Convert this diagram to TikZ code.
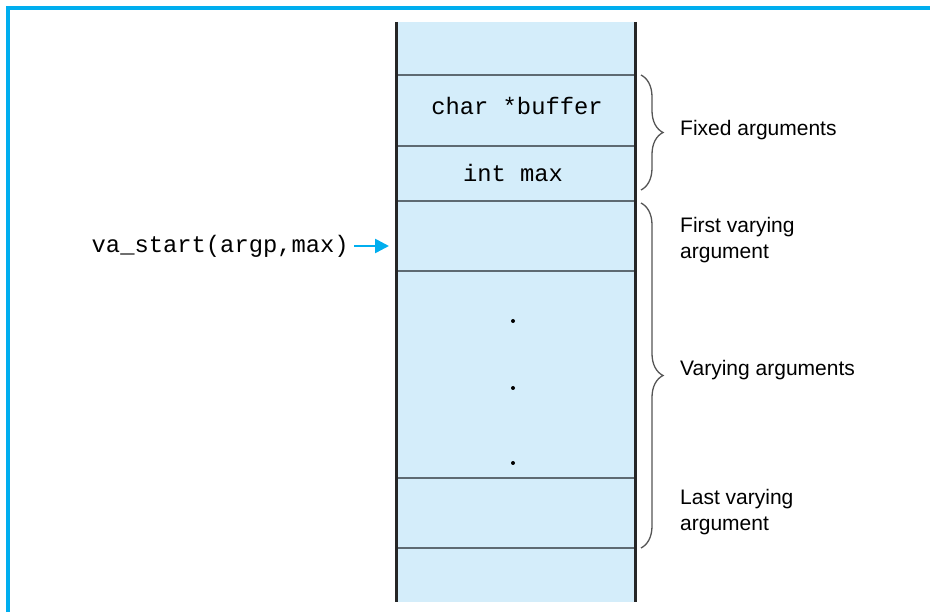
\documentclass[tikz,border=0pt]{standalone}
\usepackage{fontspec}
\setmainfont{Liberation Sans}
\setmonofont{Liberation Mono}
\usetikzlibrary{arrows.meta,decorations.pathreplacing}
\definecolor{stackfill}{HTML}{D4EDFA}
\definecolor{framecyan}{HTML}{00AEEF}
\definecolor{rowgray}{HTML}{5E6A72}
\definecolor{bracegray}{HTML}{555555}

\begin{document}
\begin{tikzpicture}[x=1pt,y=-1pt,
  cell/.style={font=\fontsize{23.8}{26}\selectfont\ttfamily,inner sep=0pt},
  note/.style={font=\fontsize{21}{26}\selectfont,align=left,anchor=west,inner sep=0pt},
  argbrace/.style={decorate,decoration={brace,amplitude=22pt},bracegray,line width=1.3pt}]
  \useasboundingbox (0,0) rectangle (930,612);
  % frame
  \draw[framecyan,line width=3.2pt] (8,612) -- (8,8) -- (930,8);
  % the stack
  \fill[stackfill] (396,22) rectangle (635,602);
  \foreach \y in {75,146,201,271,478,548}
    \draw[rowgray,line width=1.6pt] (396,\y) -- (635,\y);
  \draw[black!85,line width=3pt] (396,22) -- (396,602) (635,22) -- (635,602);
  \node[cell] (buffer) at (517,106) {char *buffer};
  \node[cell] (intmax) at (513,173) {int max};
  \foreach \y in {321,388,463}
    \fill (513,\y) circle[radius=2];
  % pointer
  \node[cell,anchor=east] (vastart) at (349,246) {va\_start(argp,max)};
  \coordinate (argp) at (389,246);
  \draw[framecyan,line width=2.6pt,shorten <=5pt,-{Triangle[length=14pt,width=14pt]}] (vastart) -- (argp);
  % braces
  \coordinate (fixtop) at (641,75);
  \coordinate (fixbot) at (641,190);
  \coordinate (vartop) at (641,203);
  \coordinate (varbot) at (641,548);
  \draw[argbrace] (fixtop) -- (fixbot);
  \draw[argbrace] (vartop) -- (varbot);
  \node[note] (fixed) at (680,130) {Fixed arguments};
  \node[note] (first) at (680,240) {First varying\\argument};
  \node[note] (varying) at (680,370) {Varying arguments};
  \node[note] (last) at (680,512) {Last varying\\argument};
\end{tikzpicture}
\end{document}
